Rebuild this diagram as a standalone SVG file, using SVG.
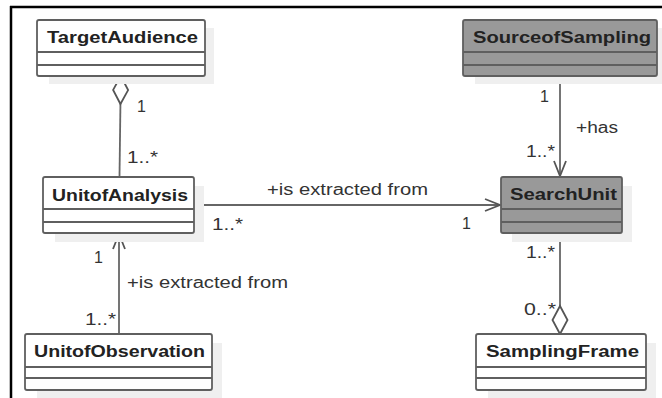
<svg xmlns="http://www.w3.org/2000/svg" width="662" height="398" viewBox="0 0 662 398">
<style>
.frame{stroke:#000;stroke-width:2.5;fill:none}
.shadow{fill:#efefef;stroke:none}
.box{fill:#fff;stroke:#5f5f5f;stroke-width:1.8}
.box.dark{fill:#999}
.div{stroke:#5f5f5f;stroke-width:1.8}
.name{font-family:"Liberation Sans",Arial,sans-serif;font-size:16px;font-weight:bold;fill:#222}
.lbl{font-family:"Liberation Sans",Arial,sans-serif;font-size:16px;fill:#333}
.conn{stroke:#666;stroke-width:1.8;fill:none}
</style>
<defs>
<marker id="arrow" markerUnits="userSpaceOnUse" viewBox="-17 -8 19 16" markerWidth="19" markerHeight="16" refX="0" refY="0" orient="auto" overflow="visible">
<path d="M-15,-6 L0,0 L-15,6" fill="none" stroke="#555" stroke-width="1.8"/>
</marker>
<marker id="diamond" markerUnits="userSpaceOnUse" viewBox="-2 -9 32 18" markerWidth="32" markerHeight="18" refX="0" refY="0" orient="auto" overflow="visible">
<path d="M0,0 L14,-7.5 L28,0 L14,7.5 Z" fill="#fff" stroke="#555" stroke-width="1.8"/>
</marker>
</defs>
<g id="frame">
<line class="frame" x1="10" y1="7" x2="662" y2="7"/>
<line class="frame" x1="11" y1="6" x2="11" y2="398"/>
</g>
<g id="connectors">
<path class="conn" d="M120.8,76 L119.5,177" marker-start="url(#diamond)"/>
<path class="conn" d="M194,205 L500,205" marker-end="url(#arrow)"/>
<path class="conn" d="M560,76 L560,176" marker-end="url(#arrow)"/>
<path class="conn" d="M560,334 L560,233" marker-start="url(#diamond)"/>
<path class="conn" d="M119,334 L119,234" marker-end="url(#arrow)"/>
</g>
<g id="labels">
<text class="lbl" x="137" y="112">1</text>
<text class="lbl" x="127" y="163" textLength="31" lengthAdjust="spacingAndGlyphs">1..*</text>
<text class="lbl" x="267" y="195" textLength="161" lengthAdjust="spacingAndGlyphs">+is extracted from</text>
<text class="lbl" x="212" y="230" textLength="31" lengthAdjust="spacingAndGlyphs">1..*</text>
<text class="lbl" x="462" y="229">1</text>
<text class="lbl" x="540" y="102">1</text>
<text class="lbl" x="576" y="133" textLength="42" lengthAdjust="spacingAndGlyphs">+has</text>
<text class="lbl" x="526" y="157" textLength="29" lengthAdjust="spacingAndGlyphs">1..*</text>
<text class="lbl" x="526" y="258" textLength="29" lengthAdjust="spacingAndGlyphs">1..*</text>
<text class="lbl" x="524" y="315" textLength="32" lengthAdjust="spacingAndGlyphs">0..*</text>
<text class="lbl" x="94" y="263">1</text>
<text class="lbl" x="127" y="288" textLength="161" lengthAdjust="spacingAndGlyphs">+is extracted from</text>
<text class="lbl" x="85" y="325" textLength="31" lengthAdjust="spacingAndGlyphs">1..*</text>
</g>
<g id="TargetAudience">
<rect class="shadow" x="49" y="28" width="165" height="56"/>
<rect class="box" x="37" y="20" width="168" height="56" rx="2"/>
<line class="div" x1="37" y1="52" x2="205" y2="52"/>
<line class="div" x1="37" y1="65" x2="205" y2="65"/>
<text class="name" x="47" y="43" textLength="151" lengthAdjust="spacingAndGlyphs">TargetAudience</text>
</g>
<g id="SourceofSampling">
<rect class="shadow" x="475" y="28" width="192" height="56"/>
<rect class="box dark" x="463" y="20" width="194" height="56" rx="2"/>
<line class="div" x1="463" y1="52" x2="657" y2="52"/>
<line class="div" x1="463" y1="65" x2="657" y2="65"/>
<text class="name" x="473" y="43" textLength="178" lengthAdjust="spacingAndGlyphs">SourceofSampling</text>
</g>
<g id="UnitofAnalysis">
<rect class="shadow" x="55" y="186" width="149" height="56"/>
<rect class="box" x="43" y="177" width="151" height="56" rx="2"/>
<line class="div" x1="43" y1="209" x2="194" y2="209"/>
<line class="div" x1="43" y1="222" x2="194" y2="222"/>
<text class="name" x="52" y="201" textLength="136" lengthAdjust="spacingAndGlyphs">UnitofAnalysis</text>
</g>
<g id="SearchUnit">
<rect class="shadow" x="512" y="186" width="120" height="56"/>
<rect class="box dark" x="501" y="177" width="121" height="56" rx="2"/>
<line class="div" x1="501" y1="209" x2="622" y2="209"/>
<line class="div" x1="501" y1="222" x2="622" y2="222"/>
<text class="name" x="510" y="200" textLength="107" lengthAdjust="spacingAndGlyphs">SearchUnit</text>
</g>
<g id="UnitofObservation">
<rect class="shadow" x="37" y="343" width="185" height="56"/>
<rect class="box" x="25" y="334" width="187" height="56" rx="2"/>
<line class="div" x1="25" y1="367" x2="212" y2="367"/>
<line class="div" x1="25" y1="378" x2="212" y2="378"/>
<text class="name" x="34" y="357" textLength="171" lengthAdjust="spacingAndGlyphs">UnitofObservation</text>
</g>
<g id="SamplingFrame">
<rect class="shadow" x="488" y="343" width="168" height="56"/>
<rect class="box" x="476" y="334" width="170" height="56" rx="2"/>
<line class="div" x1="476" y1="367" x2="646" y2="367"/>
<line class="div" x1="476" y1="378" x2="646" y2="378"/>
<text class="name" x="486" y="357" textLength="153" lengthAdjust="spacingAndGlyphs">SamplingFrame</text>
</g>
</svg>
